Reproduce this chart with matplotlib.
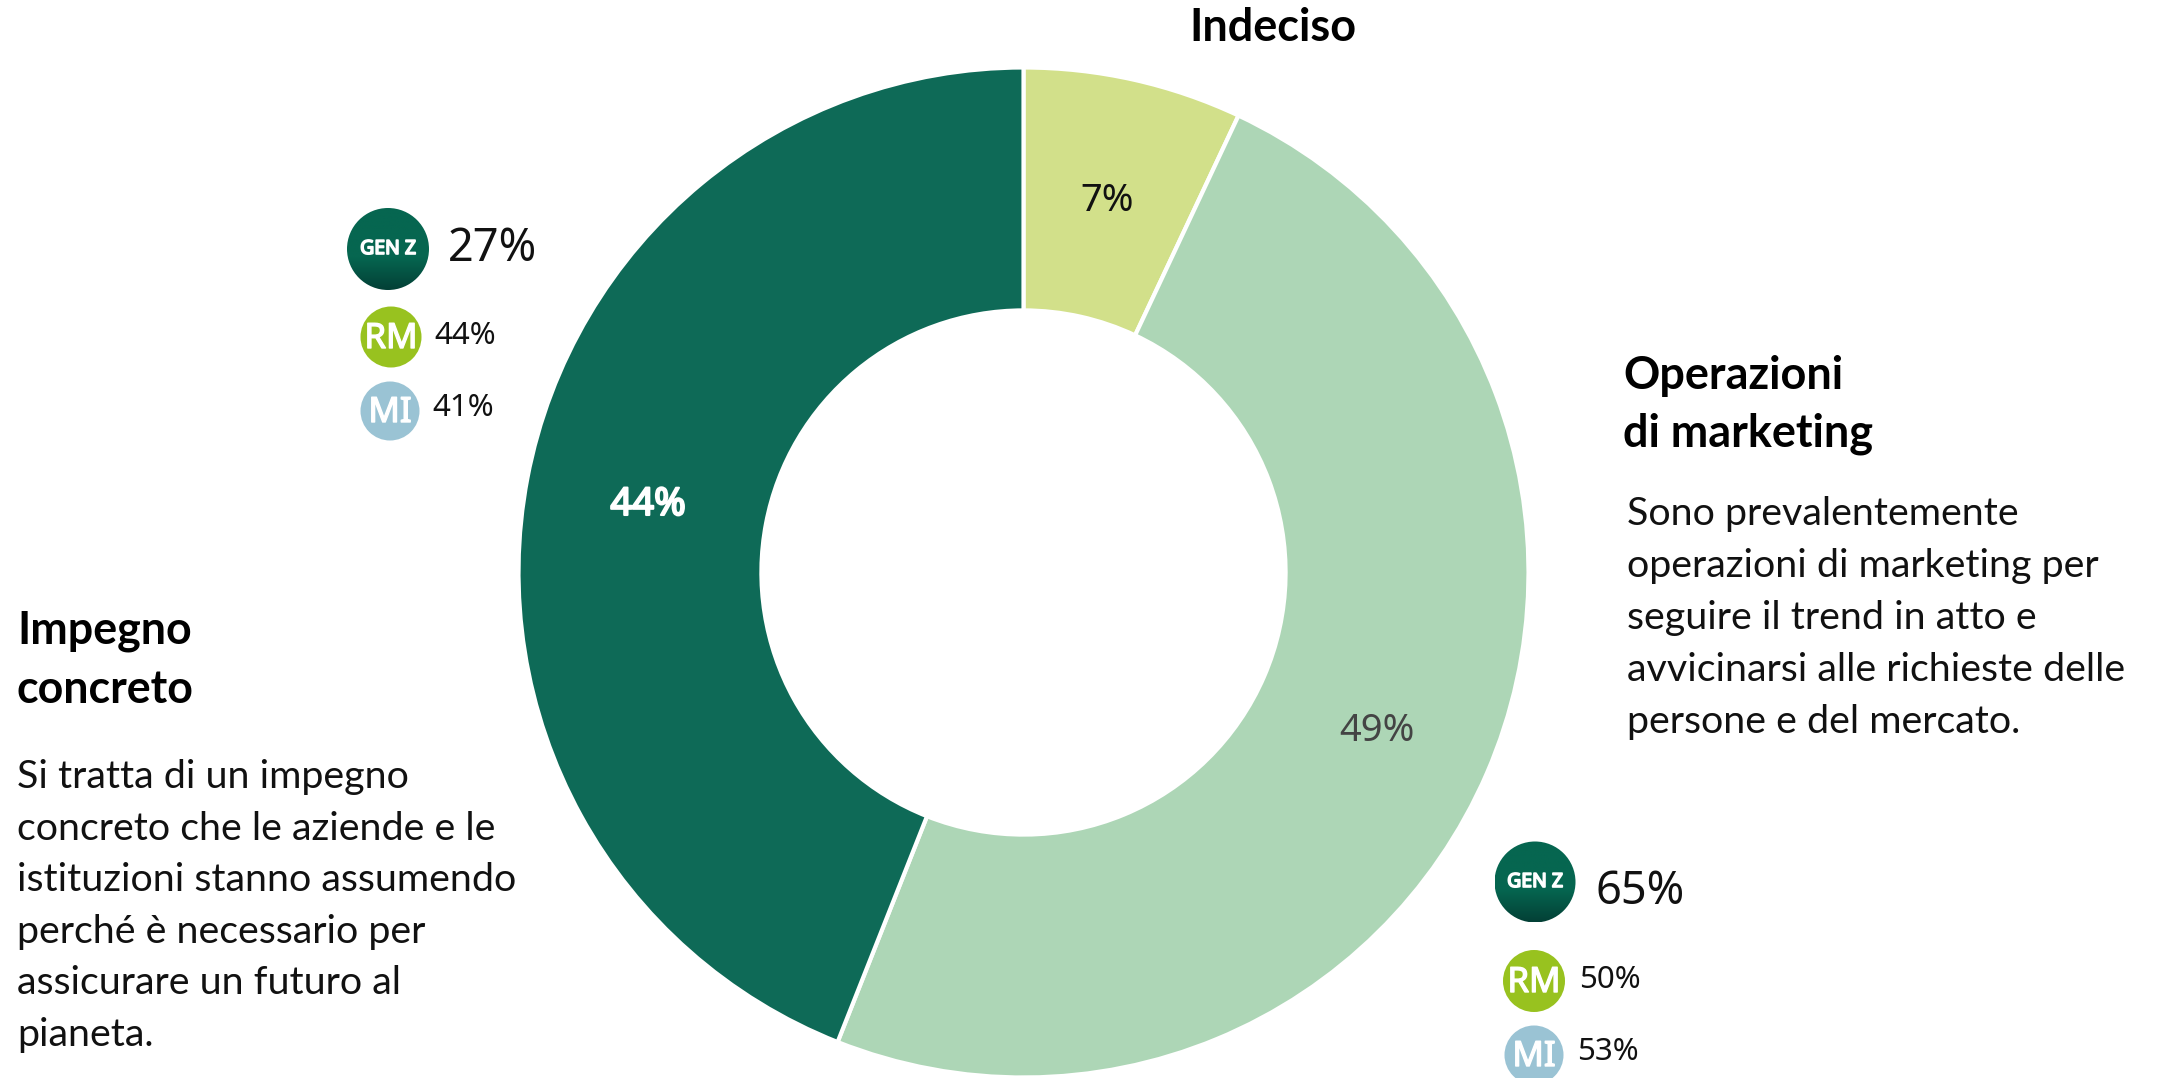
import numpy as np
import matplotlib
matplotlib.use("Agg")
import matplotlib.pyplot as plt
import matplotlib.patheffects as pe
from matplotlib.patches import Circle

plt.rcParams['font.family'] = ['Lato', 'DejaVu Sans']

# ---- data ----
categories = ["Indeciso", "Operazioni di marketing", "Impegno concreto"]
shares = [7, 49, 44]
slice_colors = ["#D2E08A", "#ADD6B6", "#0E6A57"]
slice_label_colors = ["#111111", "#444444", "#FFFFFF"]
badge_names = ["GEN Z", "RM", "MI"]
left_badge_values = [27, 44, 41]
right_badge_values = [65, 50, 53]
op_title = "Operazioni\ndi marketing"
op_lines = ["Sono prevalentemente", "operazioni di marketing per", "seguire il trend in atto e",
            "avvicinarsi alle richieste delle", "persone e del mercato."]
imp_title = "Impegno\nconcreto"
imp_lines = ["Si tratta di un impegno", "concreto che le aziende e le", "istituzioni stanno assumendo",
             "perché è necessario per", "assicurare un futuro al", "pianeta."]

W, H = 2159, 1078
fig = plt.figure(figsize=(W / 100, H / 100), dpi=100, facecolor="white")

# donut
cx, cy, R = 1023.5, 572.5, 505
ax = fig.add_axes([(cx - R) / W, 1 - (cy + R) / H, 2 * R / W, 2 * R / H])
wedges, _ = ax.pie(shares, colors=slice_colors, startangle=90, counterclock=False, radius=1,
                   wedgeprops=dict(width=0.481, edgecolor="white", linewidth=3))
ax.set_xlim(-1, 1); ax.set_ylim(-1, 1)
ax.set_aspect("equal")
for w in wedges:
    w.set_clip_on(False)

# overlay in pixel coordinates
ov = fig.add_axes([0, 0, 1, 1])
ov.set_xlim(0, W); ov.set_ylim(H, 0); ov.axis("off"); ov.patch.set_alpha(0)

PCT = ['Noto Sans', 'DejaVu Sans']

def embolden(txt, lw, color="white"):
    txt.set_path_effects([pe.withStroke(linewidth=lw, foreground=color)])

# slice labels
label_pos = [(1107, 201), (1377, 731), (648, 505)]
for k, (s, pos, c) in enumerate(zip(shares, label_pos, slice_label_colors)):
    t = ov.text(pos[0], pos[1], f"{s}%", color=c, fontsize=27.5, ha="center", va="center", family=PCT)
    if k == 2:
        embolden(t, 1.5)

# headings
ov.text(1273, 28, categories[0], fontsize=32.4, fontweight="bold", ha="center", va="center", color="black")
for i, line in enumerate(op_title.split("\n")):
    ov.text(1623, 376 + i * 58, line, fontsize=32.4, fontweight="bold", ha="left", va="center", color="black")
for i, line in enumerate(imp_title.split("\n")):
    ov.text(17, 631 + i * 59, line, fontsize=32.2, fontweight="bold", ha="left", va="center", color="black")

# body text
for i, line in enumerate(op_lines):
    ov.text(1627, 514 + i * 52, line, fontsize=28.4, ha="left", va="center", color="#111111")
for i, line in enumerate(imp_lines):
    ov.text(17, 777 + i * 51.6, line, fontsize=28.4, ha="left", va="center", color="#111111")

# badges
def gradient_badge(x, y, r, label):
    grad = np.linspace(0, 1, 100)[:, None]
    top = np.array([0x06, 0x66, 0x50]) / 255
    bot = np.array([0x03, 0x40, 0x36]) / 255
    t = np.clip((grad - 0.6) / 0.4, 0, 1)
    img = (top[None, None, :] * (1 - t[..., None]) + bot[None, None, :] * t[..., None])
    im = ov.imshow(img, extent=(x - r, x + r, y + r, y - r), aspect="auto", zorder=3)
    im.set_clip_path(Circle((x, y), r, transform=ov.transData))
    txt = ov.text(x, y, label, color="white", fontsize=14, ha="center", va="center", zorder=4, family=PCT)
    embolden(txt, 1.2)

def flat_badge(x, y, r, color, label):
    ov.add_patch(Circle((x, y), r, facecolor=color, edgecolor="none", zorder=3))
    txt = ov.text(x, y + 2, label, color="white", fontsize=25, ha="center", va="center", zorder=4, family=PCT)
    embolden(txt, 1.0)

def badge_group(spots, values, big_dy):
    (gx, gy, gr, gtx), (rx, ry, rr, rtx), (mx, my, mr, mtx) = spots
    gradient_badge(gx, gy, gr, badge_names[0])
    flat_badge(rx, ry, rr, "#98C21F", badge_names[1])
    flat_badge(mx, my, mr, "#9AC3D4", badge_names[2])
    ov.text(gtx, gy + big_dy, f"{values[0]}%", fontsize=32.5, ha="left", va="center", color="#111111", family=PCT)
    ov.text(rtx, ry - 1, f"{values[1]}%", fontsize=22.5, ha="left", va="center", color="#111111", family=PCT)
    ov.text(mtx, my - 3, f"{values[2]}%", fontsize=22.5, ha="left", va="center", color="#111111", family=PCT)

badge_group([(388, 249, 41, 448), (391, 337, 30.5, 434), (390, 411, 29.5, 432)], left_badge_values, 0)
badge_group([(1535, 882, 40.5, 1595), (1534, 981, 31, 1579), (1534, 1055, 29.5, 1577)], right_badge_values, 10)
ov.set_xlim(0, W); ov.set_ylim(H, 0)

fig.savefig("out.png", dpi=100, facecolor="white")
